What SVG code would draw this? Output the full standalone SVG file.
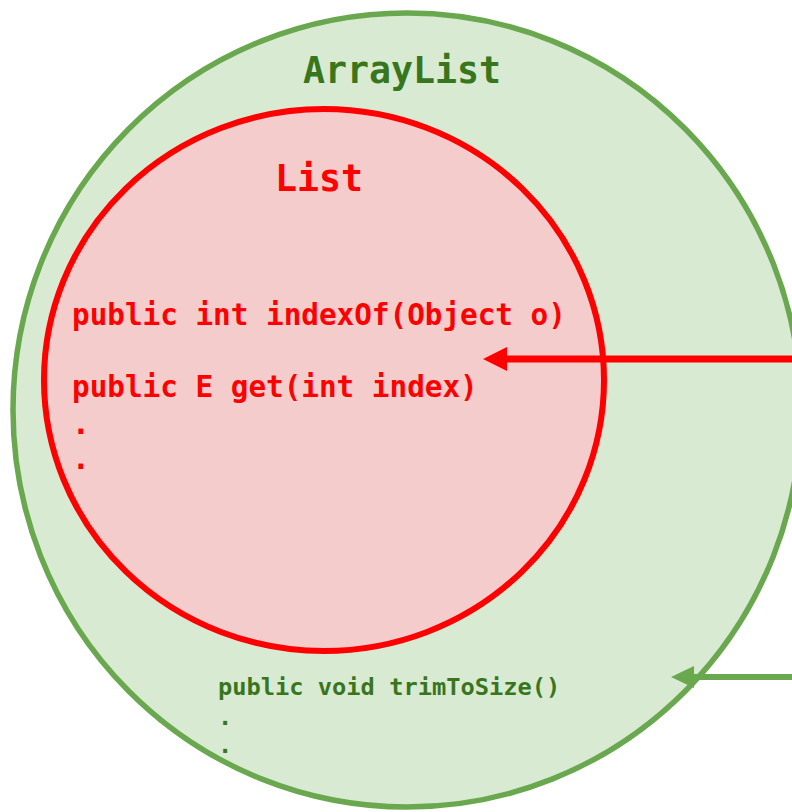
<svg xmlns="http://www.w3.org/2000/svg" width="792" height="812" viewBox="0 0 792 812">
<style>
.code{font-family:"DejaVu Sans Mono","Liberation Mono",monospace;font-weight:bold}
.g{fill:#38761d}
.r{fill:#ff0000}
</style>
<defs>
<marker id="ahR" markerUnits="userSpaceOnUse" markerWidth="24" markerHeight="24" viewBox="0 0 24 24" refX="0" refY="12" orient="auto">
<path d="M0,0 L24,12 L0,24 z" fill="#ff0000"/>
</marker>
<marker id="ahG" markerUnits="userSpaceOnUse" markerWidth="23" markerHeight="22" viewBox="0 0 23 22" refX="0" refY="11" orient="auto">
<path d="M0,0 L23,11 L0,22 z" fill="#6aa84f"/>
</marker>
</defs>
<rect width="792" height="812" fill="#ffffff"/>
<g id="arraylist">
<ellipse cx="407" cy="410" rx="394" ry="397" fill="#d9ead3" stroke="#6aa84f" stroke-width="5.5"/>
<text class="code g" x="402" y="83" font-size="36.6" text-anchor="middle">ArrayList</text>
<text class="code g" x="218" y="695" font-size="23.7">public void trimToSize()</text>
<text class="code g" x="218" y="725" font-size="23.7">.</text>
<text class="code g" x="218" y="753" font-size="23.7">.</text>
</g>
<g id="list">
<ellipse cx="324" cy="380" rx="280" ry="271" fill="#f4cccc" stroke="#ff0000" stroke-width="6"/>
<text class="code r" x="319" y="191" font-size="36.6" text-anchor="middle">List</text>
<text class="code r" x="72" y="325" font-size="29.3">public int indexOf(Object o)</text>
<text class="code r" x="72" y="397" font-size="29.3">public E get(int index)</text>
<text class="code r" x="72" y="434" font-size="29.3">.</text>
<text class="code r" x="72" y="469" font-size="29.3">.</text>
</g>
<g id="connectors">
<line x1="800" y1="359" x2="507" y2="359" stroke="#ff0000" stroke-width="7" marker-end="url(#ahR)"/>
<line x1="800" y1="677" x2="694" y2="677" stroke="#6aa84f" stroke-width="6" marker-end="url(#ahG)"/>
</g>
</svg>
